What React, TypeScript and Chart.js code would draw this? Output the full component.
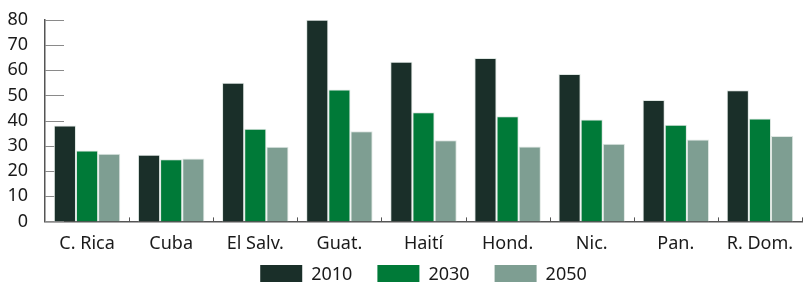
import React, { useEffect, useRef } from "react";
import { Chart, registerables } from "chart.js";

Chart.register(...registerables);

const categories = ["C. Rica", "Cuba", "El Salv.", "Guat.", "Haití", "Hond.", "Nic.", "Pan.", "R. Dom."];
const v2010 = [38.1, 26.4, 55.0, 80.0, 63.4, 64.8, 58.5, 48.2, 52.0];
const v2030 = [28.1, 24.7, 36.8, 52.3, 43.3, 41.7, 40.4, 38.4, 40.8];
const v2050 = [26.8, 25.0, 29.6, 35.8, 32.2, 29.7, 30.8, 32.5, 33.9];
const seriesLabels = ["2010", "2030", "2050"];
const colors = ["#1a2f29", "#007a38", "#7e9e92"];
const FONT = "'Noto Sans', sans-serif";

const tickPlugin = {
  id: "shortTicks",
  beforeDatasetsDraw(chart: any) {
    const { ctx, chartArea, scales } = chart;
    const y = scales.y;
    const x = scales.x;
    ctx.save();
    ctx.strokeStyle = "#8a8a8a";
    ctx.lineWidth = 1;
    y.ticks.forEach((t: any) => {
      const py = Math.round(y.getPixelForValue(t.value)) + 0.5;
      ctx.beginPath();
      ctx.moveTo(chartArea.left, py);
      ctx.lineTo(chartArea.left + 19, py);
      ctx.stroke();
    });
    ctx.strokeStyle = "#555";
    const n = categories.length;
    const step = x.getPixelForValue(1) - x.getPixelForValue(0);
    for (let i = 0; i < n; i++) {
      const px = Math.round(x.getPixelForValue(i) + step / 2) + 0.5;
      ctx.beginPath();
      ctx.moveTo(px, chartArea.bottom);
      ctx.lineTo(px, chartArea.bottom - 4);
      ctx.stroke();
    }
    ctx.restore();
  },
};

const legendPlugin = {
  id: "customLegend",
  afterDraw(chart: any) {
    const { ctx, chartArea } = chart;
    const boxW = 42, boxH = 17, gap = 9, spacing = 25;
    ctx.save();
    ctx.font = `18px ${FONT}`;
    const items = chart.data.datasets.map((ds: any) => ({
      label: ds.label,
      color: ds.backgroundColor,
      w: boxW + gap + ctx.measureText(ds.label).width,
    }));
    const total = items.reduce((s: number, it: any) => s + it.w, 0) + spacing * (items.length - 1);
    let xPos = (chartArea.left + chartArea.right) / 2 - total / 2;
    const cy = 273.5;
    items.forEach((it: any) => {
      ctx.fillStyle = it.color;
      ctx.fillRect(xPos, cy - boxH / 2, boxW, boxH);
      ctx.fillStyle = "#1a1a1a";
      ctx.textBaseline = "middle";
      ctx.textAlign = "left";
      ctx.fillText(it.label, xPos + boxW + gap, cy + 1);
      xPos += it.w + spacing;
    });
    ctx.restore();
  },
};

export default function App() {
  const ref = useRef<HTMLCanvasElement>(null);
  useEffect(() => {
    document.body.style.margin = "0";
    const chart = new Chart(ref.current!, {
      type: "bar",
      data: {
        labels: categories,
        datasets: [v2010, v2030, v2050].map((d, i) => ({
          label: seriesLabels[i],
          data: d,
          backgroundColor: colors[i],
          borderColor: "#dfe7e3",
          borderWidth: 1,
          barPercentage: 1,
          categoryPercentage: 0.79,
        })),
      },
      options: {
        animation: false,
        responsive: false,
        layout: { padding: { top: 8, right: 3, left: 0, bottom: 28 } },
        plugins: {
          legend: { display: false },
          tooltip: { enabled: false },
        },
        scales: {
          x: {
            grid: { display: false },
            border: { display: true, color: "#555", width: 1.5 },
            ticks: { color: "#1a1a1a", font: { family: FONT, size: 18 }, padding: 4, maxRotation: 0, autoSkip: false },
          },
          y: {
            min: 0,
            max: 80,
            grid: { display: false },
            border: { display: true, color: "#555", width: 1.5 },
            afterFit: (s: any) => { s.width = 45; },
            ticks: { stepSize: 10, autoSkip: false, color: "#1a1a1a", font: { family: FONT, size: 18 }, padding: 9 },
          },
        },
      },
      plugins: [tickPlugin, legendPlugin],
    });
    return () => chart.destroy();
  }, []);
  return <canvas ref={ref} width={805} height={287} style={{ display: "block" }} />;
}
